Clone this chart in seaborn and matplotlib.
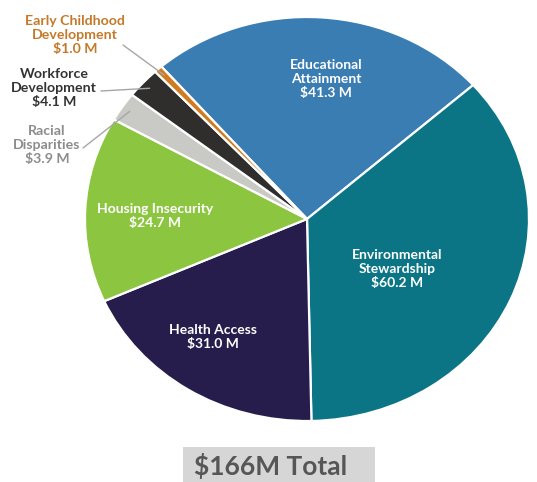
import numpy as np
import matplotlib
matplotlib.use("Agg")
import matplotlib.pyplot as plt
import seaborn as sns

# Funding by focus area, in millions of dollars (clockwise from the top)
categories = ["Educational\nAttainment", "Environmental\nStewardship", "Health Access",
              "Housing Insecurity", "Racial\nDisparities", "Workforce\nDevelopment",
              "Early Childhood\nDevelopment"]
values = [41.3, 60.2, 31.0, 24.7, 3.9, 4.1, 1.0]
colors = ["#3a7db3", "#0b7586", "#261d4c", "#8cc540", "#c9c9c5", "#2f2e2c", "#d17a1e"]
total_label = "$166M Total"

sns.set_theme(style="white")
plt.rcParams["font.family"] = ["Lato", "DejaVu Sans"]

W, H = 537, 482
fig = plt.figure(figsize=(W / 100, H / 100), dpi=100)

# pie ellipse in pixels: centre (307, 219), radii 222 x 202
cx, cy, rx, ry = 307, 219, 222, 202
ax = fig.add_axes([(cx - rx) / W, 1 - (cy + ry) / H, 2 * rx / W, 2 * ry / H])
wedges, _ = ax.pie(values, colors=colors, startangle=131, counterclock=False,
                   wedgeprops=dict(edgecolor="white", linewidth=1.6))
ax.set_aspect("auto")
ax.set_xlim(-1, 1)
ax.set_ylim(-1, 1)
ax.axis("off")


def fig_xy(px, py):
    return px / W, 1 - py / H


labels = [f"{c}\n${v:.1f} M" for c, v in zip(categories, values)]

# labels inside the large slices
inner_pos = [(326, 79), (397, 269), (213, 337), (155, 216)]
for lab, (px, py) in zip(labels[:4], inner_pos):
    fig.text(*fig_xy(px, py), lab, ha="center", va="center", color="white",
             fontsize=10, fontweight="bold", linespacing=1.22)

# labels outside the small slices, with leader lines
outer_pos = [(47, 145), (54, 88), (75, 35)]
outer_col = ["#8c8c8c", "#333333", "#c47a2a"]
line_start = [(83, 148), (101, 91), (123, 45)]
for i, (px, py), col, (lx, ly) in zip(range(4, 7), outer_pos, outer_col, line_start):
    w = wedges[i]
    mid = np.deg2rad((w.theta1 + w.theta2) / 2)
    tip = (0.96 * np.cos(mid), 0.96 * np.sin(mid))
    ax.annotate("", xy=tip, xycoords="data",
                xytext=fig_xy(lx, ly), textcoords="figure fraction",
                arrowprops=dict(arrowstyle="-", color="#a6a6a6", lw=1.0,
                                shrinkA=0, shrinkB=0),
                annotation_clip=False)
    fig.text(*fig_xy(px, py), labels[i], ha="center", va="center", color=col,
             fontsize=10.2, fontweight="bold", linespacing=1.2)

# total banner
fig.patches.append(plt.Rectangle(fig_xy(183, 482), (375 - 183) / W, (482 - 447) / H,
                                 transform=fig.transFigure, facecolor="#d6d6d6",
                                 edgecolor="none"))
fig.text(*fig_xy(271, 466), total_label, ha="center", va="center", color="#565656",
         fontsize=19, fontweight="bold")

fig.savefig("out.png", dpi=100)
